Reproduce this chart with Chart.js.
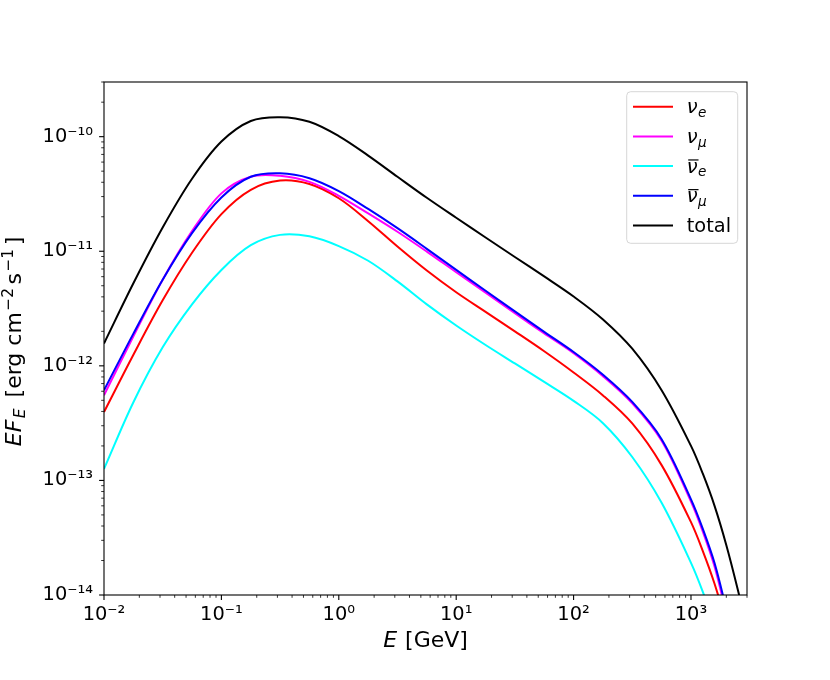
<!DOCTYPE html>
<html>
<head>
<meta charset="utf-8">
<script src="https://cdn.jsdelivr.net/npm/chart.js@4.4.0/dist/chart.umd.min.js"></script>
<style>
html,body{margin:0;padding:0;background:#fff;}
canvas{display:block;}
</style>
</head>
<body>
<canvas id="c" width="830" height="680"></canvas>
<script>
// ---- data (E in GeV, E*F_E in erg cm^-2 s^-1) ----
const energyGeV = [0.01, 0.0178, 0.0316, 0.0562, 0.1, 0.178, 0.316, 0.562, 1, 1.78, 3.16, 5.62, 10, 17.8, 31.6, 56.2, 100, 178, 316, 562, 1000, 1259, 1585, 1995, 2512, 3000];
const nuE     = [3.95e-13, 1.25e-12, 3.73e-12, 9.70e-12, 2.11e-11, 3.44e-11, 4.14e-11, 3.86e-11, 2.90e-11, 1.83e-11, 1.10e-11, 6.79e-12, 4.39e-12, 2.96e-12, 2.00e-12, 1.34e-12, 8.75e-13, 5.52e-13, 3.14e-13, 1.36e-13, 4.32e-14, 2.43e-14, 1.26e-14, 5.62e-15, 2.09e-15, 9.55e-16];
const nuMu    = [5.53e-13, 1.81e-12, 5.65e-12, 1.50e-11, 3.20e-11, 4.47e-11, 4.55e-11, 4.03e-11, 3.05e-11, 2.14e-11, 1.48e-11, 9.93e-12, 6.56e-12, 4.36e-12, 2.88e-12, 1.92e-12, 1.29e-12, 8.13e-13, 4.71e-13, 2.22e-13, 6.53e-14, 3.59e-14, 1.78e-14, 6.92e-15, 2.51e-15, 1.12e-15];
const nuEBar  = [1.26e-13, 4.81e-13, 1.45e-12, 3.44e-12, 6.87e-12, 1.13e-11, 1.39e-11, 1.35e-11, 1.11e-11, 8.26e-12, 5.46e-12, 3.44e-12, 2.25e-12, 1.52e-12, 1.05e-12, 7.24e-13, 4.95e-13, 3.16e-13, 1.60e-13, 6.38e-14, 1.91e-14, 1.07e-14, 5.37e-15, 2.51e-15, 1.0e-15, 5.0e-16];
const nuMuBar = [6.12e-13, 1.91e-12, 5.65e-12, 1.44e-11, 2.95e-11, 4.47e-11, 4.79e-11, 4.34e-11, 3.35e-11, 2.34e-11, 1.59e-11, 1.05e-11, 6.87e-12, 4.52e-12, 2.99e-12, 1.98e-12, 1.32e-12, 8.36e-13, 4.84e-13, 2.29e-13, 6.84e-14, 3.80e-14, 1.91e-14, 7.59e-15, 2.82e-15, 1.26e-15];
const total   = [1.567e-12, 5.25e-12, 1.61e-11, 4.29e-11, 9.06e-11, 1.371e-10, 1.479e-10, 1.349e-10, 1.012e-10, 6.84e-11, 4.47e-11, 2.93e-11, 1.96e-11, 1.318e-11, 8.91e-12, 6.03e-12, 4.03e-12, 2.54e-12, 1.41e-12, 6.12e-13, 2.00e-13, 1.15e-13, 6.03e-14, 2.75e-14, 1.10e-14, 5.01e-15];

// axis ranges and tick labels
const xMin = 0.01, xMax = 3000;
const yMin = 1e-14, yMax = 3e-10;
const xMajor = [0.01, 0.1, 1, 10, 100, 1000];
const xMajorLabels = ['10⁻²', '10⁻¹', '10⁰', '10¹', '10²', '10³'];
const yMajor = [1e-14, 1e-13, 1e-12, 1e-11, 1e-10];
const yMajorLabels = ['10⁻¹⁴', '10⁻¹³', '10⁻¹²', '10⁻¹¹', '10⁻¹⁰'];
const minorMult = [2, 3, 4, 5, 6, 7, 8, 9];

// legend entries: symbol, subscript, overbar
const seriesNames = ['νₑ', 'ν_μ', 'ν̄ₑ', 'ν̄_μ', 'total'];
const legendSym = [
  {sym: 'ν', sub: 'e', bar: false},
  {sym: 'ν', sub: 'μ', bar: false},
  {sym: 'ν', sub: 'e', bar: true},
  {sym: 'ν', sub: 'μ', bar: true},
  {text: 'total'}
];
const colors = ['#ff0000', '#ff00ff', '#00ffff', '#0000ff', '#000000'];
const seriesData = [nuE, nuMu, nuEBar, nuMuBar, total];

function buildTicks(majors, min, max) {
  const t = [];
  majors.forEach(m => {
    t.push({value: m, major: true});
    minorMult.forEach(k => {
      const v = +(k * m).toPrecision(3);
      if (v >= min && v <= max * 1.0000001) t.push({value: v, major: false});
    });
  });
  t.sort((a, b) => a.value - b.value);
  return t;
}
const xTicks = buildTicks(xMajor, xMin, xMax);
const yTicks = buildTicks(yMajor, yMin, yMax);
function labelFor(v, majors, labels) {
  for (let i = 0; i < majors.length; i++) {
    if (Math.abs(v / majors[i] - 1) < 1e-6) return labels[i];
  }
  return '';
}

const FONT = '"DejaVu Sans"';

function drawRuns(ctx, runs, x, y, align) {
  let w = 0;
  runs.forEach(r => {
    ctx.font = (r.italic ? 'italic ' : '') + r.size + 'px ' + FONT;
    r.w = ctx.measureText(r.t).width + (r.gap || 0);
    w += r.w;
  });
  let cx = align === 'center' ? x - w / 2 : x;
  runs.forEach(r => {
    ctx.font = (r.italic ? 'italic ' : '') + r.size + 'px ' + FONT;
    ctx.fillText(r.t, cx, y + (r.dy || 0));
    cx += r.w;
  });
  return w;
}

const decor = {
  id: 'decor',
  afterDraw(chart) {
    const {ctx, chartArea: a} = chart;
    const xs = chart.scales.x, ys = chart.scales.y;
    ctx.save();
    ctx.strokeStyle = '#000';
    ctx.fillStyle = '#000';
    // ticks (outward, major longer)
    xTicks.forEach(t => {
      const p = xs.getPixelForValue(t.value);
      if (p < a.left - 0.5 || p > a.right + 0.5) return;
      ctx.lineWidth = t.major ? 1.1 : 0.8;
      ctx.beginPath();
      ctx.moveTo(p, a.bottom);
      ctx.lineTo(p, a.bottom + (t.major ? 4.9 : 2.8));
      ctx.stroke();
    });
    yTicks.forEach(t => {
      const p = ys.getPixelForValue(t.value);
      if (p < a.top - 0.5 || p > a.bottom + 0.5) return;
      ctx.lineWidth = t.major ? 1.1 : 0.8;
      ctx.beginPath();
      ctx.moveTo(a.left, p);
      ctx.lineTo(a.left - (t.major ? 4.9 : 2.8), p);
      ctx.stroke();
    });
    // frame
    ctx.lineWidth = 1.1;
    ctx.strokeRect(a.left, a.top, a.right - a.left, a.bottom - a.top);

    // axis titles
    ctx.textBaseline = 'alphabetic';
    ctx.textAlign = 'left';
    drawRuns(ctx, [
      {t: 'E', size: 22, italic: true, gap: 1},
      {t: ' [GeV]', size: 22}
    ], (a.left + a.right) / 2, 646.5, 'center');

    ctx.save();
    ctx.translate(20.5, (a.top + a.bottom) / 2 + 3);
    ctx.rotate(-Math.PI / 2);
    drawRuns(ctx, [
      {t: 'EF', size: 22, italic: true, gap: 1.5},
      {t: 'E', size: 15.4, italic: true, dy: 4.5, gap: 4},
      {t: ' [erg cm', size: 22, gap: 1.5},
      {t: '−2', size: 15.4, dy: -8, gap: 3.5},
      {t: 's', size: 22, gap: 1.5},
      {t: '−1', size: 15.4, dy: -8, gap: 3.5},
      {t: ']', size: 22}
    ], 0, 0, 'center');
    ctx.restore();

    // legend
    const bx = 626.7, by = 91.7, bw = 111, bh = 151.6, r = 4;
    ctx.beginPath();
    ctx.moveTo(bx + r, by);
    ctx.lineTo(bx + bw - r, by);
    ctx.quadraticCurveTo(bx + bw, by, bx + bw, by + r);
    ctx.lineTo(bx + bw, by + bh - r);
    ctx.quadraticCurveTo(bx + bw, by + bh, bx + bw - r, by + bh);
    ctx.lineTo(bx + r, by + bh);
    ctx.quadraticCurveTo(bx, by + bh, bx, by + bh - r);
    ctx.lineTo(bx, by + r);
    ctx.quadraticCurveTo(bx, by, bx + r, by);
    ctx.closePath();
    ctx.fillStyle = 'rgba(255,255,255,0.8)';
    ctx.fill();
    ctx.strokeStyle = 'rgba(204,204,204,0.8)';
    ctx.lineWidth = 1;
    ctx.stroke();

    chart.data.datasets.forEach((ds, i) => {
      const ly = 106.7 + i * 29.68;
      ctx.strokeStyle = ds.borderColor;
      ctx.lineWidth = 2;
      ctx.beginPath();
      ctx.moveTo(633, ly);
      ctx.lineTo(673, ly);
      ctx.stroke();
      ctx.fillStyle = '#000';
      const L = legendSym[i];
      const tx = 686.7, base = ly + 6.5;
      if (L.text) {
        ctx.font = '19.4px ' + FONT;
        ctx.fillText(L.text, tx, base);
      } else {
        ctx.font = 'italic 19.4px ' + FONT;
        const w = ctx.measureText(L.sym).width;
        ctx.fillText(L.sym, tx, base);
        if (L.bar) {
          ctx.fillRect(tx + 1.5, base - 13.2, w - 0.5, 1.2);
        }
        ctx.font = 'italic 13.6px ' + FONT;
        ctx.fillText(L.sub, tx + w + 0.5, base + 3.8);
      }
    });
    ctx.restore();
  }
};

const datasets = seriesData.map((arr, i) => ({
  label: seriesNames[i],
  data: energyGeV.map((e, j) => ({x: e, y: arr[j]})),
  borderColor: colors[i],
  backgroundColor: colors[i],
  borderWidth: 2,
  pointRadius: 0,
  fill: false,
  tension: 0.34,
  clip: 0,
  order: seriesData.length - i
}));

new Chart(document.getElementById('c'), {
  type: 'line',
  data: {datasets},
  options: {
    responsive: false,
    animation: false,
    devicePixelRatio: 1,
    layout: {padding: {left: 0, top: 82, right: 83, bottom: 0}},
    plugins: {legend: {display: false}, tooltip: {enabled: false}, title: {display: false}},
    scales: {
      x: {
        type: 'logarithmic',
        position: 'bottom',
        min: xMin, max: xMax,
        grid: {display: false, drawTicks: false},
        border: {display: false},
        afterBuildTicks: s => { s.ticks = xTicks.map(t => ({value: t.value, major: t.major})); },
        afterFit: s => { s.height = 85; },
        ticks: {
          autoSkip: false, maxRotation: 0, minRotation: 0, padding: 8,
          color: '#000',
          font: {family: 'DejaVu Sans', size: 19.4},
          callback: v => labelFor(v, xMajor, xMajorLabels)
        }
      },
      y: {
        type: 'logarithmic',
        position: 'left',
        min: yMin, max: yMax,
        grid: {display: false, drawTicks: false},
        border: {display: false},
        afterBuildTicks: s => { s.ticks = yTicks.map(t => ({value: t.value, major: t.major})); },
        afterFit: s => { s.width = 104; },
        ticks: {
          autoSkip: false, padding: 11,
          color: '#000',
          font: {family: 'DejaVu Sans', size: 19.4},
          callback: v => labelFor(v, yMajor, yMajorLabels)
        }
      }
    }
  },
  plugins: [decor]
});
</script>
</body>
</html>
